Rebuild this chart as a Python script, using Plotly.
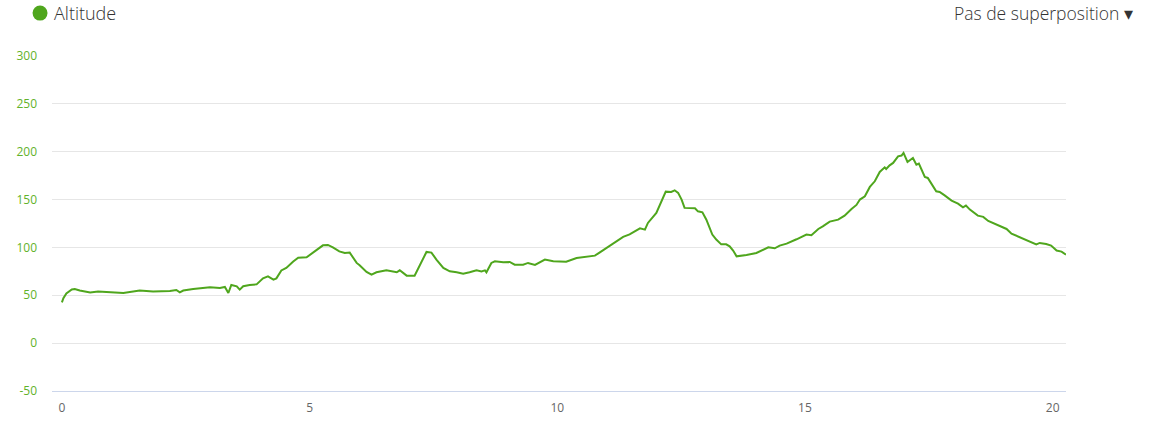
import plotly.graph_objects as go

distance_km = [0.0, 0.03, 0.09, 0.2, 0.26, 0.36, 0.57, 0.73, 1.24, 1.57, 1.84, 2.18, 2.31, 2.38, 2.45,
               2.65, 2.99, 3.19, 3.29, 3.36, 3.42, 3.53, 3.59, 3.66, 3.79, 3.93, 4.06, 4.16, 4.27, 4.33,
               4.43, 4.53, 4.67, 4.77, 4.94, 5.07, 5.27, 5.37, 5.47, 5.6, 5.71, 5.81, 5.95, 6.01, 6.15,
               6.25, 6.35, 6.55, 6.76, 6.82, 6.96, 7.12, 7.22, 7.36, 7.46, 7.56, 7.7, 7.83, 7.97, 8.1,
               8.23, 8.37, 8.47, 8.54, 8.57, 8.67, 8.74, 8.91, 9.04, 9.14, 9.31, 9.41, 9.55, 9.75, 9.92,
               10.18, 10.39, 10.59, 10.76, 10.86, 11.06, 11.33, 11.46, 11.67, 11.77, 11.83, 12.0, 12.07,
               12.19, 12.3, 12.37, 12.44, 12.51, 12.57, 12.78, 12.84, 12.93, 13.01, 13.13, 13.21, 13.31,
               13.41, 13.48, 13.55, 13.62, 13.82, 14.02, 14.26, 14.39, 14.49, 14.63, 14.83, 15.03, 15.13,
               15.27, 15.36, 15.5, 15.67, 15.8, 15.94, 16.04, 16.11, 16.21, 16.31, 16.41, 16.51, 16.61,
               16.64, 16.71, 16.78, 16.88, 16.95, 16.99, 17.07, 17.18, 17.25, 17.3, 17.42, 17.48, 17.65,
               17.72, 17.82, 17.96, 18.09, 18.19, 18.25, 18.33, 18.49, 18.6, 18.7, 18.9, 19.07, 19.17,
               19.33, 19.54, 19.67, 19.74, 19.87, 19.97, 20.08, 20.18, 20.27]

altitude_m = [42.6, 47, 52, 56, 56.6, 55, 53, 54, 52.5, 55, 54, 54.5, 55.6, 53, 55,
              56.6, 58.3, 57.7, 58.7, 52.4, 60.8, 59.4, 55.9, 59.4, 60.8, 61.4, 67.7, 69.8, 66.4, 67.7,
              76, 78.6, 85.2, 89.3, 89.7, 94.9, 102.2, 102.6, 100.1, 95.9, 94.2, 94.6, 83.8, 81.3, 74.4,
              71.6, 74, 76.1, 74, 76.1, 70.5, 70.5, 80.3, 95.3, 94.6, 87.3, 78.6, 75, 74, 72.6,
              74, 76.1, 75, 76.1, 74, 83.8, 85.5, 84.4, 84.8, 82, 82, 83.8, 81.7, 87.3, 85.5,
              85, 89, 90.7, 91.4, 94.9, 101.9, 111, 113.7, 120, 118.6, 125.6, 136, 143.7,
              158.3, 158, 159.7, 157, 150, 141.3, 140.9, 137.7, 136.7, 129, 113.4, 108.2, 103.2,
              103.2, 101.1, 96.7, 90.7, 92.2, 94.2, 100.1, 99.1, 101.9, 104, 108.5, 113.4, 112.7,
              119.3, 122, 127, 129, 133.2, 140.2, 144.4, 150, 153.4, 163.2, 169.1, 178.9, 183.7,
              182, 185.8, 188.3, 195.2, 196, 198.7, 189.3, 193.5, 186.5, 187.6, 173.7, 172.6, 158.6,
              158, 154.4, 148.9, 145.8, 141.9, 143.7, 139.5, 133.2, 131.9, 127.7, 122.8, 119.3, 114.4,
              111, 105.7, 103.2, 104.7, 103.6, 101.9, 96.7, 95.6, 92.5]

x_ticks = [0, 5, 10, 15, 20]
y_ticks = [-50, 0, 50, 100, 150, 200, 250, 300]
series_name = "Altitude"
overlay_label = "Pas de superposition ▾"

LINE_GREEN = "#4fa61d"
LABEL_GREEN = "#62b22a"

fig = go.Figure()
fig.add_trace(go.Scatter(
    x=distance_km, y=altitude_m, mode="lines", name=series_name,
    line=dict(color=LINE_GREEN, width=2),
    showlegend=False, hoverinfo="x+y",
))

fig.update_layout(
    width=1150, height=429,
    margin=dict(l=52, r=84, t=56, b=38, autoexpand=False),
    plot_bgcolor="white", paper_bgcolor="white",
    font=dict(family="Open Sans, sans-serif", color="#333333"),
    showlegend=False,
    xaxis=dict(
        range=[-0.2, 20.27],
        tickvals=x_ticks, ticktext=[str(v) for v in x_ticks],
        showgrid=False, zeroline=False,
        showline=True, linecolor="#ccd6eb", linewidth=1,
        ticks="", tickfont=dict(size=12, color="#666666", family="Liberation Sans Narrow, Open Sans, sans-serif"),
        ticklabelstandoff=6,
    ),
    yaxis=dict(
        range=[-50, 300],
        tickvals=y_ticks, ticktext=[str(v) for v in y_ticks],
        showgrid=True, gridcolor="#e6e6e6", gridwidth=1,
        zeroline=False, showline=False, ticks="",
        tickfont=dict(size=12, color=LABEL_GREEN, family="Liberation Sans Narrow, Open Sans, sans-serif"),
        ticklabelstandoff=14,
    ),
    shapes=[dict(
        type="circle", xref="paper", yref="paper",
        xsizemode="pixel", ysizemode="pixel",
        xanchor=-0.0118, yanchor=1.128,
        x0=-7.5, x1=7.5, y0=-7.5, y1=7.5,
        fillcolor=LINE_GREEN, line=dict(width=0),
    )],
    annotations=[
        dict(
            text=series_name, xref="paper", yref="paper",
            x=0.0, y=1.128, xanchor="left", yanchor="middle", showarrow=False,
            font=dict(size=18, color="#333333", family="Open Sans, sans-serif", weight=300),
        ),
        dict(
            text=overlay_label, xref="paper", yref="paper",
            x=1.068, y=1.128, xanchor="right", yanchor="middle", showarrow=False,
            font=dict(size=17.5, color="#333333", family="Open Sans, sans-serif", weight=300),
        ),
    ],
)

fig.write_html("out.html", config={"displayModeBar": False},
               post_script="document.body.style.margin='0px';")
